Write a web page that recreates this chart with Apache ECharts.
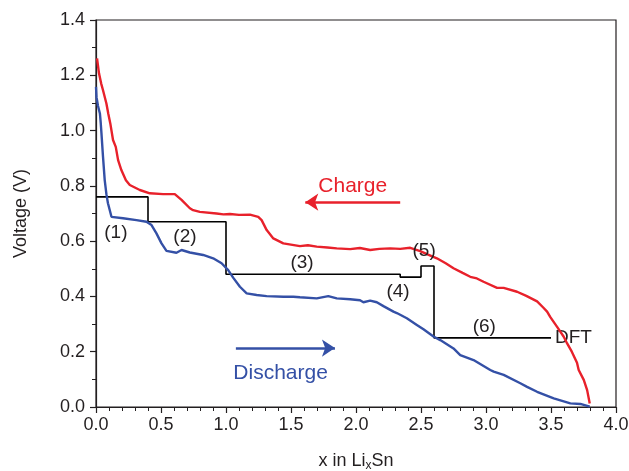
<!DOCTYPE html>
<html>
<head>
<meta charset="utf-8">
<script src="https://cdn.jsdelivr.net/npm/echarts@6/dist/echarts.min.js"></script>
<style>
  html, body { margin: 0; padding: 0; background: #fff; }
  #chart { width: 629px; height: 471px; }
</style>
</head>
<body>
<div id="chart"></div>
<script>
// Charge curve (x in LixSn, voltage in V)
var chargeCurve = [
  [0.008,1.261],[0.023,1.207],[0.04,1.17],[0.054,1.146],[0.08,1.098],[0.095,1.06],[0.11,1.026],
  [0.131,0.966],[0.152,0.941],[0.17,0.893],[0.195,0.857],[0.23,0.82],[0.26,0.803],[0.337,0.785],
  [0.414,0.773],[0.516,0.770],[0.606,0.770],[0.658,0.749],[0.722,0.719],[0.747,0.712],[0.799,0.706],
  [0.927,0.700],[0.98,0.697],[1.03,0.698],[1.1,0.695],[1.184,0.696],[1.248,0.688],[1.274,0.676],
  [1.313,0.640],[1.364,0.610],[1.441,0.592],[1.569,0.582],[1.63,0.585],[1.698,0.580],[1.78,0.577],
  [1.852,0.574],[1.955,0.571],[2.03,0.575],[2.109,0.568],[2.18,0.572],[2.263,0.574],[2.34,0.572],
  [2.417,0.576],[2.494,0.564],[2.55,0.552],[2.622,0.538],[2.69,0.52],[2.75,0.502],[2.82,0.485],
  [2.879,0.471],[2.93,0.465],[2.981,0.453],[3.085,0.431],[3.136,0.431],[3.239,0.417],[3.31,0.402],
  [3.393,0.382],[3.44,0.36],[3.47,0.345],[3.495,0.325],[3.547,0.29],[3.598,0.254],[3.624,0.230],
  [3.66,0.2],[3.70,0.16],[3.713,0.134],[3.752,0.098],[3.778,0.061],[3.798,0.013]
];

// Discharge curve
var dischargeCurve = [
  [0,1.158],[0.004,1.12],[0.008,1.11],[0.015,1.09],[0.03,1.062],[0.036,1.03],[0.042,0.99],
  [0.054,0.905],[0.067,0.821],[0.08,0.77],[0.092,0.737],[0.119,0.688],[0.208,0.683],[0.311,0.676],
  [0.388,0.670],[0.427,0.658],[0.465,0.628],[0.504,0.592],[0.542,0.565],[0.619,0.558],[0.658,0.568],
  [0.722,0.559],[0.824,0.550],[0.901,0.538],[0.966,0.520],[1.017,0.495],[1.055,0.468],[1.107,0.435],
  [1.159,0.411],[1.236,0.405],[1.313,0.401],[1.441,0.399],[1.518,0.399],[1.569,0.397],[1.698,0.393],
  [1.787,0.401],[1.852,0.393],[1.955,0.390],[2.031,0.386],[2.057,0.379],[2.109,0.385],[2.16,0.379],
  [2.211,0.365],[2.288,0.345],[2.314,0.340],[2.391,0.321],[2.468,0.297],[2.519,0.281],[2.596,0.255],
  [2.648,0.242],[2.75,0.212],[2.802,0.188],[2.904,0.170],[3.033,0.134],[3.059,0.128],[3.136,0.116],
  [3.264,0.086],[3.316,0.073],[3.393,0.055],[3.521,0.031],[3.649,0.013],[3.726,0.011],[3.798,0.001]
];

// DFT voltage plateaus: each value holds until the next x
var dftX = [0, 0.4, 1.0, 2.34, 2.5, 2.6, 3.5];
var dftV = [0.76, 0.67, 0.48, 0.47, 0.51, 0.25, 0.25];

// Plateau labels
var plateauNames = ['(1)', '(2)', '(3)', '(4)', '(5)', '(6)'];
var plateauLabelPos = [[0.153,0.629],[0.684,0.615],[1.585,0.521],[2.323,0.416],[2.524,0.564],[2.987,0.289]];

// Direction arrows
var chargeArrow = [[2.34,0.741],[1.61,0.741]];
var dischargeArrow = [[1.076,0.213],[1.838,0.213]];

var RED = '#e8212b';
var BLUE = '#3450a6';
var INK = '#231f20';
var FONT = 'Liberation Sans, Arial, Helvetica, sans-serif';

var chart = echarts.init(document.getElementById('chart'));

var dftData = dftX.map(function (x, i) { return [x, dftV[i]]; });
var labelData = plateauNames.map(function (n, i) { return { name: n, value: plateauLabelPos[i] }; });

chart.setOption({
  animation: false,
  backgroundColor: '#fff',
  textStyle: { fontFamily: FONT },
  grid: {
    left: 96, right: 13, top: 20, bottom: 64, outerBoundsMode: 'none',
    show: true, borderColor: INK, borderWidth: 1.2
  },
  xAxis: {
    type: 'value', min: 0, max: 4, interval: 0.5,
    name: '{a|x in Li}{s|x}{a|Sn}', nameLocation: 'middle', nameGap: 44,
    nameTextStyle: { rich: {
      a: { fontSize: 18, color: INK, fontFamily: FONT },
      s: { fontSize: 12, color: INK, fontFamily: FONT, verticalAlign: 'bottom', padding: [9, 0, 0, 0] }
    } },
    axisLine: { lineStyle: { color: INK, width: 1.2 } },
    axisTick: { length: 6, lineStyle: { color: INK, width: 1.2 } },
    minorTick: { show: true, splitNumber: 5, length: 4, lineStyle: { color: INK, width: 1 } },
    axisLabel: { fontSize: 18, color: INK, margin: 9, formatter: function (v) { return v.toFixed(1); } },
    splitLine: { show: false }
  },
  yAxis: {
    type: 'value', min: 0, max: 1.4, interval: 0.2,
    name: 'Voltage (V)', nameLocation: 'middle', nameGap: 66, nameRotate: 90,
    nameTextStyle: { fontSize: 18, color: INK },
    axisLine: { show: true, lineStyle: { color: INK, width: 1.2 } },
    axisTick: { show: true, length: 6, lineStyle: { color: INK, width: 1.2 } },
    minorTick: { show: true, splitNumber: 2, length: 4, lineStyle: { color: INK, width: 1 } },
    axisLabel: { fontSize: 18, color: INK, margin: 11, formatter: function (v) { return v.toFixed(1); } },
    splitLine: { show: false }
  },
  series: [
    {
      name: 'DFT', type: 'line', step: 'end', data: dftData, showSymbol: false, z: 3,
      lineStyle: { color: '#000', width: 1.6 },
      endLabel: { show: true, formatter: 'DFT', fontSize: 19, color: INK, distance: 4, fontFamily: FONT }
    },
    {
      name: 'Charge', type: 'line', data: chargeCurve, showSymbol: false, z: 4,
      lineStyle: { color: RED, width: 2.4 },
      markLine: {
        silent: true, symbol: ['none', 'arrow'], symbolSize: [13, 13],
        lineStyle: { color: RED, width: 2.6, type: 'solid' },
        label: { show: true, position: 'middle', formatter: 'Charge', color: RED, fontSize: 21, distance: 5, fontFamily: FONT },
        data: [[{ coord: chargeArrow[0] }, { coord: chargeArrow[1] }]]
      }
    },
    {
      name: 'Discharge', type: 'line', data: dischargeCurve, showSymbol: false, z: 4,
      lineStyle: { color: BLUE, width: 2.4 },
      markLine: {
        silent: true, symbol: ['none', 'arrow'], symbolSize: [13, 13],
        lineStyle: { color: BLUE, width: 2.6, type: 'solid' },
        label: { show: false },
        data: [[{ coord: dischargeArrow[0] }, { coord: dischargeArrow[1] }]]
      }
    },
    {
      name: 'Discharge label', type: 'scatter', symbolSize: 0, z: 5,
      itemStyle: { opacity: 1 },
      data: [{ name: 'Discharge', value: [1.42, 0.123] }],
      label: { show: true, position: 'inside', formatter: '{b}', color: BLUE, fontSize: 21,
               textBorderWidth: 0, fontFamily: FONT }
    },
    {
      name: 'Plateaus', type: 'scatter', symbolSize: 0, z: 5, data: labelData,
      itemStyle: { opacity: 1 },
      label: { show: true, position: 'inside', formatter: '{b}', color: INK, fontSize: 19,
               textBorderWidth: 0, fontFamily: FONT }
    }
  ]
});
</script>
</body>
</html>
